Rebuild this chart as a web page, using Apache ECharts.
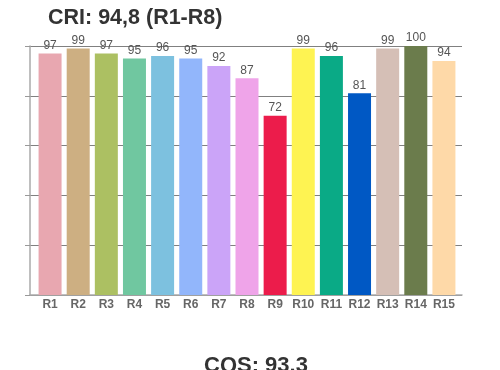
<!DOCTYPE html>
<html><head><meta charset="utf-8">
<script src="https://cdn.jsdelivr.net/npm/echarts@6/dist/echarts.min.js"></script>
<style>html,body{margin:0;padding:0;background:#fff}#c{width:500px;height:370px}</style>
</head><body><div id="c"></div>
<script>
const categories = ['R1','R2','R3','R4','R5','R6','R7','R8','R9','R10','R11','R12','R13','R14','R15'];
const values = [97,99,97,95,96,95,92,87,72,99,96,81,99,100,94];
const colors = ['#e8a7b0','#cdaf82','#acc062','#70c7a0','#7dc1df','#92b6fb','#cba4f8','#efa4e9','#ec1c4b','#fef352','#0aaa86','#0058c4','#d5bfb6','#6b7c4c','#fed9a8'];
const titleText = 'CRI: 94,8 (R1-R8)';
const footerText = 'CQS: 93.3';

const FONT = 'Liberation Sans, Arial, sans-serif';
const chart = echarts.init(document.getElementById('c'), null, {renderer:'canvas'});
chart.setOption({
  animation: false,
  title: [
    {text: titleText, left: 43, top: 2, textStyle: {fontFamily: FONT, fontSize: 21.5, fontWeight: 'bold', color: '#333'}},
    {text: footerText, left: 199, top: 350, textStyle: {fontFamily: FONT, fontSize: 22, fontWeight: 'bold', color: '#333'}}
  ],
  grid: [
    {left: 30, right: 38, top: 46, bottom: 75},
    {left: 36, right: 42, top: 46, bottom: 75}
  ],
  xAxis: [
    {gridIndex: 0, type: 'value', min: 0, max: 1,
     axisLine: {show: true, onZero: false, lineStyle: {color: '#aaa', width: 1.5}},
     axisTick: {show: false}, axisLabel: {show: false}, splitLine: {show: false}},
    {gridIndex: 1, type: 'category', data: categories,
     axisLine: {show: false}, axisTick: {show: false},
     axisLabel: {color: '#666', fontWeight: 'bold', fontSize: 12, margin: 4, fontFamily: FONT, interval: 0}}
  ],
  yAxis: [
    {gridIndex: 0, type: 'value', min: 0, max: 100, interval: 20,
     axisLine: {show: true, lineStyle: {color: '#aaa', width: 1.5}},
     axisTick: {show: true, length: 5, lineStyle: {color: '#999'}},
     axisLabel: {show: false},
     splitLine: {lineStyle: {color: '#808080', width: 1}}},
    {gridIndex: 1, type: 'value', min: 0, max: 100, interval: 20,
     axisLine: {show: false}, axisTick: {show: false}, axisLabel: {show: false}, splitLine: {show: false}}
  ],
  series: [{
    type: 'bar', xAxisIndex: 1, yAxisIndex: 1,
    data: values.map((v,i)=>({value: v, itemStyle: {color: colors[i]}})),
    barWidth: 23,
    label: {show: true, position: 'top', distance: 2, color: '#555', fontSize: 12, fontFamily: FONT}
  }]
});
</script></body></html>
